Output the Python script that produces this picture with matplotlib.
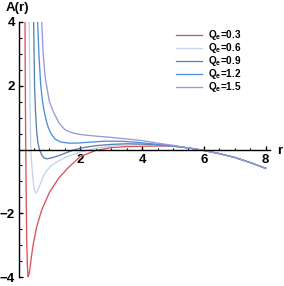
import matplotlib
matplotlib.use("Agg")
import matplotlib.pyplot as plt
from matplotlib.ticker import MultipleLocator, FixedLocator

plt.rcParams['font.family'] = ['Liberation Sans', 'DejaVu Sans']
plt.rcParams['font.weight'] = 'bold'
plt.rcParams['mathtext.fontset'] = 'custom'
plt.rcParams['mathtext.rm'] = 'Liberation Sans:bold'
plt.rcParams['mathtext.it'] = 'Liberation Sans:bold'
plt.rcParams['mathtext.bf'] = 'Liberation Sans:bold'

# common tail (all curves merge for r > 5)
r_tail = [5.5, 6.0, 6.5, 7.0, 7.5, 8.0]
A_tail = [0.05, -0.03, -0.13, -0.25, -0.41, -0.59]

# Qe = 0.3
r_03 = [0.205, 0.21, 0.22, 0.235, 0.25, 0.265, 0.285, 0.31, 0.33, 0.37, 0.42, 0.48,
        0.59, 0.75, 1.0, 1.3, 1.6, 2.0, 2.5, 3.0, 3.5, 4.0, 4.5, 5.0]
A_03 = [4.6, 4.0, 2.0, 0.0, -1.5, -2.8, -3.6, -4.02, -3.95, -3.75, -3.35, -2.95,
        -2.42, -1.9, -1.35, -0.9, -0.58, -0.22, -0.03, 0.06, 0.09, 0.1, 0.11, 0.1]

# Qe = 0.6
r_06 = [0.345, 0.352, 0.36, 0.372, 0.385, 0.40, 0.43, 0.47, 0.51, 0.55, 0.6, 0.7,
        0.8, 0.91, 1.05, 1.24, 1.56, 2.0, 2.5, 3.0, 3.5, 4.0, 4.5, 5.0]
A_06 = [4.6, 3.5, 2.5, 1.5, 0.7, 0.0, -0.5, -0.95, -1.25, -1.36, -1.33, -1.1,
        -0.85, -0.66, -0.52, -0.39, -0.23, -0.08, 0.04, 0.11, 0.14, 0.15, 0.13, 0.11]

# Qe = 0.9
r_09 = [0.485, 0.49, 0.505, 0.52, 0.55, 0.59, 0.63, 0.68, 0.75, 0.82, 0.9, 1.0,
        1.15, 1.34, 1.55, 1.8, 2.1, 2.5, 3.0, 3.5, 4.0, 4.5, 5.0]
A_09 = [4.6, 4.0, 3.0, 2.0, 1.2, 0.55, 0.2, 0.0, -0.17, -0.26, -0.29, -0.28,
        -0.24, -0.18, -0.1, -0.01, 0.06, 0.12, 0.16, 0.18, 0.17, 0.14, 0.11]

# Qe = 1.2
r_12 = [0.61, 0.62, 0.66, 0.72, 0.78, 0.83, 0.9, 0.96, 1.05, 1.18, 1.35, 1.6,
        1.9, 2.3, 2.8, 3.3, 3.8, 4.3, 5.0]
A_12 = [4.6, 4.0, 3.0, 2.0, 1.5, 1.2, 0.9, 0.7, 0.5, 0.33, 0.24, 0.2,
        0.2, 0.23, 0.26, 0.26, 0.23, 0.18, 0.11]

# Qe = 1.5
r_15 = [0.74, 0.75, 0.8, 0.86, 0.91, 1.0, 1.12, 1.3, 1.5, 1.75, 2.0, 2.5,
        3.0, 3.5, 4.0, 4.5, 5.0]
A_15 = [4.6, 4.0, 3.0, 2.3, 2.0, 1.5, 1.2, 0.85, 0.62, 0.52, 0.47, 0.42,
        0.38, 0.33, 0.28, 0.2, 0.13]

series = [
    (r_03, A_03, '0.3', '#d9545a'),
    (r_06, A_06, '0.6', '#c5d3ee'),
    (r_09, A_09, '0.9', '#5a82a8'),
    (r_12, A_12, '1.2', '#4a90e0'),
    (r_15, A_15, '1.5', '#9a98d8'),
]

fig = plt.figure(figsize=(2.84, 2.86), dpi=100)
ax = fig.add_axes([18.5 / 284, 9 / 286, 251.5 / 284, 255 / 286])

for r, A, q, c in series:
    ax.plot(r + r_tail, A + A_tail, color=c, lw=0.95, label='Q$_{e}$=' + q)

ax.set_xlim(0, 8.14)
ax.set_ylim(-4, 4)

ax.spines['left'].set_position(('data', 0))
ax.spines['bottom'].set_position(('data', 0))
ax.spines['top'].set_visible(False)
ax.spines['right'].set_visible(False)
for s in ['left', 'bottom']:
    ax.spines[s].set_linewidth(1.0)

ax.xaxis.set_major_locator(FixedLocator([2, 4, 6, 8]))
ax.yaxis.set_major_locator(FixedLocator([-4, -2, 2, 4]))
ax.xaxis.set_minor_locator(MultipleLocator(0.5))
ax.yaxis.set_minor_locator(MultipleLocator(0.5))
ax.set_yticklabels(['\u22124', '\u22122', '2', '4'])
ax.tick_params(which='major', direction='in', length=3.2, width=1.0, labelsize=9.5)
ax.tick_params(which='minor', direction='in', length=1.8, width=0.8)
ax.tick_params(axis='x', pad=3.5)
ax.tick_params(axis='y', pad=2.5)

fig.text(6 / 284, 1 - 2 / 286, 'A(r)', fontsize=9.5, fontweight='bold', va='top', ha='left')
fig.text(277 / 284, 1 - 151 / 286, 'r', fontsize=9.5, fontweight='bold', va='center', ha='left')

ax.legend(loc='upper left', bbox_to_anchor=(176 / 284, 1 - 28 / 286),
          bbox_transform=fig.transFigure, frameon=False, fontsize=7.2,
          handlelength=2.6, handletextpad=0.6, labelspacing=-0.1,
          borderpad=0, borderaxespad=0)

fig.savefig('out.png', dpi=100)
